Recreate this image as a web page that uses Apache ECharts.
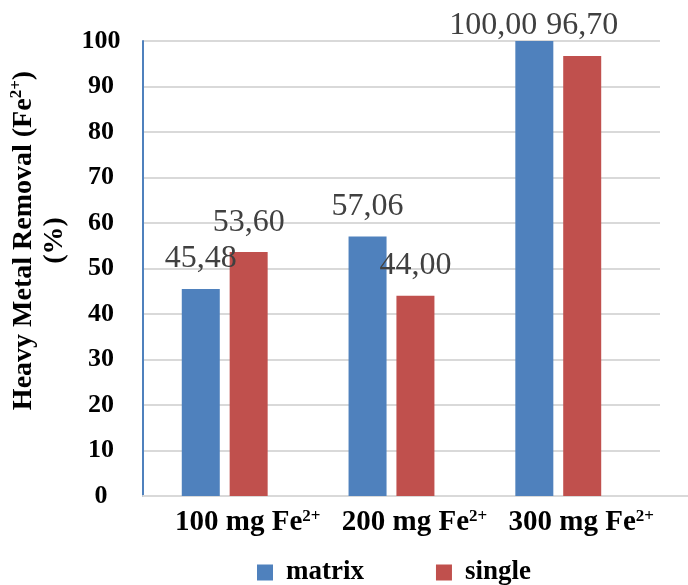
<!DOCTYPE html>
<html>
<head>
<meta charset="utf-8">
<script src="https://cdn.jsdelivr.net/npm/echarts@6/dist/echarts.min.js"></script>
<style>html,body{margin:0;padding:0;background:#fff}#c{width:688px;height:585px}</style>
</head>
<body>
<div id="c"></div>
<script>
var categories = ['100 mg Fe', '200 mg Fe', '300 mg Fe'];
var matrixValues = [45.48, 57.06, 100.00];
var singleValues = [53.60, 44.00, 96.70];
var yTicks = [0, 10, 20, 30, 40, 50, 60, 70, 80, 90, 100];

var SERIF = '"Liberation Serif", "Times New Roman", serif';
var GRID = {left: 141, right: 28, top: 41, bottom: 89};

function buildData(vals) {
  return vals.map(function (v, i) {
    var item = {value: [i, v]};
    if (v >= 100) item.label = {distance: -1, offset: [-41, 0]};
    return item;
  });
}
function fmt(p) { return p.value[1].toFixed(2).replace('.', ','); }

var labelStyle = {
  show: true, position: 'top', distance: 14, formatter: fmt,
  fontFamily: SERIF, fontSize: 32, color: '#404040'
};

var chart = echarts.init(document.getElementById('c'), null, {renderer: 'canvas'});
var option = {
  animation: false,
  grid: GRID,
  legend: {
    left: 252, top: 554, itemWidth: 16, itemHeight: 16, itemGap: 72, icon: 'rect',
    textStyle: {fontFamily: SERIF, fontWeight: 'bold', fontSize: 27, color: '#000', padding: [0, 0, 0, 8]},
    data: ['matrix', 'single']
  },
  xAxis: {
    type: 'value', min: -0.49, max: 2.61,
    splitLine: {show: false},
    axisTick: {show: false},
    axisLine: {show: true, onZero: false, lineStyle: {color: '#d9d9d9', width: 2}},
    axisLabel: {
      customValues: [0, 1, 2],
      margin: 12,
      padding: [0, 0, 0, 46],
      formatter: function (v) { return '{b|' + categories[Math.round(v)] + '}{s|2+}'; },
      rich: {
        b: {fontFamily: SERIF, fontWeight: 'bold', fontSize: 29, color: '#000', lineHeight: 30},
        s: {fontFamily: SERIF, fontWeight: 'bold', fontSize: 17, color: '#000', verticalAlign: 'top', lineHeight: 30, padding: [0, 0, 10, 0]}
      }
    }
  },
  yAxis: {
    type: 'value', min: 0, max: 100, interval: 10,
    axisLine: {show: true, onZero: false, lineStyle: {color: '#4F81BD', width: 2}},
    axisTick: {show: false},
    splitLine: {show: true, lineStyle: {color: '#d9d9d9', width: 2}},
    axisLabel: {
      align: 'center', margin: 42,
      fontFamily: SERIF, fontWeight: 'bold', fontSize: 26, color: '#000',
      customValues: yTicks
    },
    name: '{t|Heavy Metal Removal (Fe}{s|2+}{t|)}\n{t|(%)}',
    nameLocation: 'middle', nameRotate: 90, nameGap: 73,
    nameTextStyle: {
      padding: [0, 0, 0, 56],
      rich: {
        t: {fontFamily: SERIF, fontWeight: 'bold', fontSize: 28, color: '#000', lineHeight: 31, align: 'center'},
        s: {fontFamily: SERIF, fontWeight: 'bold', fontSize: 17, color: '#000', verticalAlign: 'top', lineHeight: 31, padding: [0, 0, 10, 0]}
      }
    }
  },
  series: [
    {name: 'matrix', type: 'bar', barWidth: 38, barGap: '26%', itemStyle: {color: '#4F81BD'}, label: labelStyle, data: buildData(matrixValues)},
    {name: 'single', type: 'bar', barWidth: 38, barGap: '26%', itemStyle: {color: '#C0504D'}, label: labelStyle, data: buildData(singleValues)}
  ],
  graphic: [{
    type: 'line', silent: true,
    shape: {x1: 688 - GRID.right, y1: 585 - GRID.bottom, x2: 688, y2: 585 - GRID.bottom},
    style: {stroke: '#d9d9d9', lineWidth: 2}
  }]
};
chart.setOption(option);
</script>
</body>
</html>
